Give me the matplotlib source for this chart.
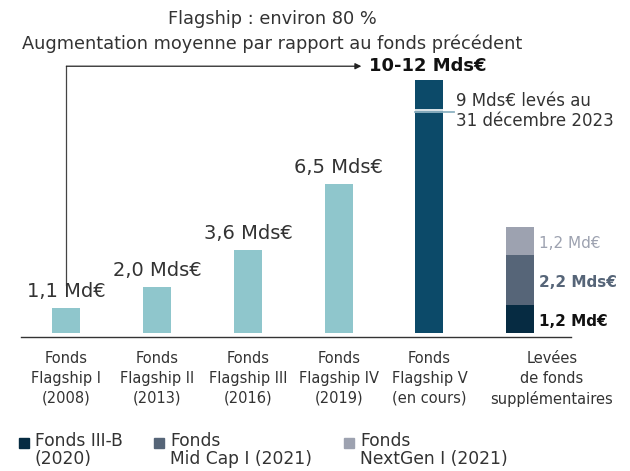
import matplotlib
matplotlib.use("Agg")
import matplotlib.pyplot as plt
from matplotlib.patches import Rectangle

# data
funds = ["Fonds\nFlagship I\n(2008)", "Fonds\nFlagship II\n(2013)", "Fonds\nFlagship III\n(2016)",
         "Fonds\nFlagship IV\n(2019)", "Fonds\nFlagship V\n(en cours)",
         "Levées\nde fonds\nsupplémentaires"]
flagship_values = [1.1, 2.0, 3.6, 6.5]
flagship_labels = ["1,1 Md€", "2,0 Mds€", "3,6 Mds€", "6,5 Mds€"]
flagship_v_target = 11.0        # 10-12 Mds€
flagship_v_raised = 9.7         # marker drawn at this height in the reference
extra_values = [1.2, 2.2, 1.2]  # III-B, Mid Cap I, NextGen I
extra_labels = ["1,2 Md€", "2,2 Mds€", "1,2 Md€"]
legend_labels = ["Fonds III-B\n(2020)", "Fonds\nMid Cap I (2021)", "Fonds\nNextGen I (2021)"]

light = "#8fc6cc"
navy = "#0c4a69"
extra_colors = ["#062b42", "#566578", "#9da2b0"]
text_col = "#333333"

plt.rcParams['font.family'] = ['DejaVu Sans']

fig = plt.figure(figsize=(6.3, 4.71), dpi=100)
ax = fig.add_axes([21/630, (471-337)/471, 550/630, 326/471])
ax.set_xlim(-0.5, 5.56)
ax.set_ylim(-0.17, 14)

w = 0.31
x = list(range(len(funds)))

# Flagship I-IV
ax.bar(x[:4], flagship_values, width=w, color=light)
for xi, v, lab in zip(x[:4], flagship_values, flagship_labels):
    ax.text(xi, v + 0.3, lab, ha="center", va="bottom", fontsize=14, color=text_col)

# Flagship V
ax.bar(x[4], flagship_v_target, width=w, color=navy)
ax.plot([x[4] - w/2, x[4] + w/2], [flagship_v_raised, flagship_v_raised], color="white", lw=1.2)
ax.plot([x[4] - w/2, x[4] + 0.27], [flagship_v_raised - 0.09, flagship_v_raised - 0.09],
        color="#8fb3c3", lw=1.3, clip_on=False)
ax.text(x[4] + 0.29, flagship_v_raised - 0.05, "9 Mds€ levés au\n31 décembre 2023", ha="left",
        va="center", fontsize=12, color=text_col, linespacing=1.1)

# additional funds, stacked
bottom = 0
for v, c, lab, i in zip(extra_values, extra_colors, extra_labels, range(3)):
    ax.bar(x[5], v, width=w, bottom=bottom, color=c)
    weight = "bold" if i < 2 else "normal"
    tc = "#111111" if i == 0 else c
    ax.text(x[5] + w/2 + 0.05, bottom + v/2 - 0.1, lab, ha="left", va="center",
            fontsize=11, color=tc, fontweight=weight)
    bottom += v

# arrow from Flagship I to Flagship V
y_arrow = 11.6
ax.plot([0, 0], [2.1, y_arrow], color="#444444", lw=0.9, clip_on=False)
ax.annotate("", xy=(3.25, y_arrow), xytext=(0, y_arrow),
            arrowprops=dict(arrowstyle="-|>", color="#222222", lw=0.9,
                            shrinkA=0, shrinkB=0, mutation_scale=9),
            annotation_clip=False)
ax.text(3.33, y_arrow, "10-12 Mds€", ha="left", va="center", fontsize=13,
        fontweight="bold", color="#111111")
ax.text(2.27, 13.65, "Flagship : environ 80 %", ha="center", va="center",
        fontsize=12.8, color=text_col)
ax.text(2.27, 12.56, "Augmentation moyenne par rapport au fonds précédent",
        ha="center", va="center", fontsize=12.8, color=text_col)

# axes styling
for s in ["top", "right", "left"]:
    ax.spines[s].set_visible(False)
ax.spines["bottom"].set_color("#333333")
ax.spines["bottom"].set_linewidth(1.0)
ax.set_yticks([])
# the last category label sits a bit right of its bar in the reference
ax.set_xticks(x[:5] + [5.35])
ax.set_xticklabels(funds, fontsize=10.5, color=text_col, linespacing=1.4)
ax.tick_params(axis="x", length=0, pad=10)

# legend, drawn by hand so the square sits on the first line
leg_x = [19, 154, 344]
for lx, lab, c in zip(leg_x, legend_labels, extra_colors):
    fig.add_artist(Rectangle((lx/630, (471-448)/471), 10/630, 10/471,
                             transform=fig.transFigure, color=c))
    fig.text((lx + 16)/630, (471-432)/471, lab, ha="left", va="top",
             fontsize=12.3, color=text_col, linespacing=1.0)

fig.savefig("out.png", dpi=100)
